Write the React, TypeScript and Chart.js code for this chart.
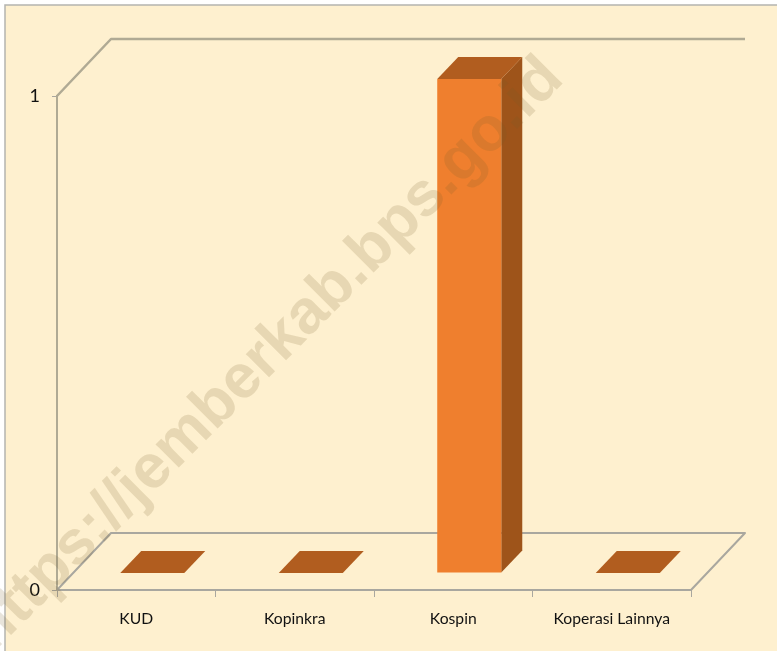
import React, { useEffect, useRef } from "react";
import { Chart, registerables } from "chart.js";

Chart.register(...registerables);

const categories = ["KUD", "Kopinkra", "Kospin", "Koperasi Lainnya"];
const values = [0, 0, 1, 0];
const yTicks = [0, 1];
const watermarkText = "https://jemberkab.bps.go.id";

const FONT = "Lato";
const BG = "#fef0cf";
const FRONT = "#ef7f2e";
const SIDE = "#9e541a";
const TOP = "#b15d1f";
const WALL = "#b0aa94";
const AXIS = "#a9a79f";
const DEPTH = { x: 54, y: -57 };
const BAR_OFFSET = { x: 16, y: -17 };
const BAR_DEPTH = { x: 21, y: -22 };

const poly = (ctx: CanvasRenderingContext2D, pts: number[][], fill: string) => {
  ctx.beginPath();
  pts.forEach(([x, y], i) => (i ? ctx.lineTo(x, y) : ctx.moveTo(x, y)));
  ctx.closePath();
  ctx.fillStyle = fill;
  ctx.fill();
};

const frame3d = {
  id: "frame3d",
  beforeDraw(chart: any) {
    const { ctx, width, height } = chart;
    ctx.save();
    ctx.fillStyle = "#ffffff";
    ctx.fillRect(0, 0, width, height);
    ctx.fillStyle = BG;
    ctx.fillRect(5, 5, width - 5, height - 5);
    ctx.strokeStyle = "#b4b4b0";
    ctx.lineWidth = 1.5;
    ctx.beginPath();
    ctx.moveTo(5, height);
    ctx.lineTo(5, 5);
    ctx.lineTo(width, 5);
    ctx.stroke();
    ctx.restore();
  },
  beforeDatasetsDraw(chart: any) {
    const { ctx, scales } = chart;
    const l = scales.x.left;
    const r = scales.x.right;
    const y0 = scales.y.getPixelForValue(0);
    const y1 = scales.y.getPixelForValue(1);
    ctx.save();
    ctx.strokeStyle = WALL;
    ctx.lineWidth = 2.5;
    ctx.lineJoin = "round";
    ctx.beginPath();
    ctx.moveTo(l, y1);
    ctx.lineTo(l + DEPTH.x, y1 + DEPTH.y);
    ctx.lineTo(r + DEPTH.x, y1 + DEPTH.y);
    ctx.stroke();
    ctx.strokeStyle = AXIS;
    ctx.lineWidth = 2;
    ctx.beginPath();
    ctx.moveTo(l, y0);
    ctx.lineTo(l + DEPTH.x, y0 + DEPTH.y);
    ctx.lineTo(r + DEPTH.x, y0 + DEPTH.y);
    ctx.lineTo(r, y0);
    ctx.stroke();
    ctx.restore();
  },
  beforeDatasetDraw(chart: any, args: any) {
    const { ctx } = chart;
    ctx.save();
    ctx.translate(BAR_OFFSET.x, BAR_OFFSET.y);
    args.meta.data.forEach((bar: any) => {
      const w = bar.width / 2;
      const { x, y, base } = bar;
      const d = BAR_DEPTH;
      if (base - y > 0.5) {
        poly(ctx, [[x + w, y], [x + w + d.x, y + d.y], [x + w + d.x, base + d.y], [x + w, base]], SIDE);
      }
      poly(ctx, [[x - w, y], [x + w, y], [x + w + d.x, y + d.y], [x - w + d.x, y + d.y]], TOP);
    });
  },
  afterDatasetDraw(chart: any) {
    chart.ctx.restore();
  },
  afterDraw(chart: any) {
    const { ctx } = chart;
    ctx.save();
    ctx.translate(-19, 641);
    ctx.rotate(-Math.PI / 4);
    ctx.font = `bold 62px "Liberation Sans"`;
    ctx.fillStyle = "rgba(120, 95, 40, 0.17)";
    ctx.textBaseline = "middle";
    ctx.fillText(watermarkText, 0, 0);
    ctx.restore();
  },
};

export default function App() {
  const ref = useRef<HTMLCanvasElement>(null);
  useEffect(() => {
    const chart = new Chart(ref.current!, {
      type: "bar",
      data: {
        labels: categories,
        datasets: [
          {
            data: values,
            backgroundColor: FRONT,
            borderWidth: 0,
            barPercentage: 0.404,
            categoryPercentage: 1,
          },
        ],
      },
      plugins: [frame3d],
      options: {
        animation: false,
        responsive: false,
        devicePixelRatio: 1,
        layout: { padding: { left: 0, right: 86, top: 96, bottom: 0 } },
        plugins: { legend: { display: false }, title: { display: false }, tooltip: { enabled: false } },
        scales: {
          x: {
            afterFit: (s: any) => {
              s.height = 61;
            },
            grid: { drawOnChartArea: false, drawTicks: true, tickLength: 7, tickColor: AXIS },
            border: { color: AXIS, width: 2 },
            ticks: {
              color: "#111111",
              font: { family: FONT, size: 15.7 },
              padding: 13,
              maxRotation: 0,
              autoSkip: false,
            },
          },
          y: {
            min: 0,
            max: 1,
            afterFit: (s: any) => {
              s.width = 57;
            },
            afterBuildTicks: (s: any) => {
              s.ticks = yTicks.map((value) => ({ value }));
            },
            grid: { drawOnChartArea: false, drawTicks: true, tickLength: 5, tickColor: AXIS },
            border: { color: WALL, width: 2 },
            ticks: {
              color: "#111111",
              font: { family: FONT, size: 18 },
              padding: 12,
            },
          },
        },
      },
    });
    return () => chart.destroy();
  }, []);
  return (
    <div style={{ position: "fixed", left: 0, top: 0, width: 777, height: 651 }}>
      <canvas ref={ref} width={777} height={651} style={{ display: "block" }} />
    </div>
  );
}
